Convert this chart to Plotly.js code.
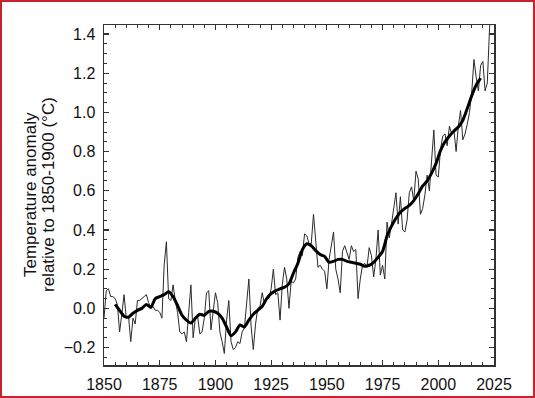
<!DOCTYPE html>
<html>
<head>
<meta charset="utf-8">
<script src="https://cdn.plot.ly/plotly-3.0.1.min.js"></script>
<style>
  html, body { margin: 0; padding: 0; background: #fff; }
  #wrap { position: relative; width: 535px; height: 398px; }
  #chart { position: absolute; left: 0; top: 0; width: 535px; height: 398px; }
  #frame { position: absolute; left: 0; top: 0; width: 535px; height: 398px; box-sizing: border-box; border: 2px solid #c8232c; pointer-events: none; }
</style>
</head>
<body>
<div id="wrap"><div id="chart"></div><div id="frame"></div></div>
<script>
// Annual global mean temperature anomaly (°C, relative to 1850-1900), 1850-2024
const years = [];
for (let y = 1850; y <= 2024; y++) years.push(y);

const annual = [
  -0.05, 0.09, 0.10, 0.06, 0.06, 0.05, 0.02, -0.12, -0.03, 0.07,   // 1850s
  -0.05, -0.04, -0.17, -0.05, -0.08, 0.04, 0.04, 0.05, 0.06, 0.07,  // 1860s
  0.03, 0.00, 0.01, -0.01, -0.01, -0.02, -0.05, 0.22, 0.34, 0.05,   // 1870s
  0.04, 0.12, 0.04, -0.02, -0.12, -0.13, -0.12, -0.17, -0.02, 0.12, // 1880s
  -0.15, -0.05, -0.04, -0.13, -0.12, -0.05, 0.08, 0.09, -0.11, 0.00,// 1890s
  0.08, 0.03, -0.12, -0.17, -0.23, -0.06, 0.04, -0.17, -0.21, -0.20,// 1900s
  -0.17, -0.18, -0.12, -0.10, 0.05, 0.15, -0.09, -0.21, -0.08, 0.00,// 1910s
  0.01, 0.08, 0.02, 0.05, 0.05, 0.10, 0.20, 0.07, 0.08, -0.06,      // 1920s
  0.12, 0.21, 0.15, 0.00, 0.14, 0.13, 0.15, 0.26, 0.29, 0.27,       // 1930s
  0.38, 0.37, 0.33, 0.33, 0.48, 0.33, 0.21, 0.22, 0.20, 0.19,       // 1940s
  0.10, 0.25, 0.31, 0.39, 0.20, 0.15, 0.08, 0.29, 0.32, 0.29,       // 1950s
  0.25, 0.32, 0.29, 0.30, 0.05, 0.15, 0.22, 0.23, 0.21, 0.31,       // 1960s
  0.27, 0.16, 0.25, 0.40, 0.17, 0.22, 0.15, 0.44, 0.36, 0.43,       // 1970s
  0.52, 0.59, 0.43, 0.57, 0.40, 0.39, 0.45, 0.59, 0.62, 0.55,       // 1980s
  0.70, 0.66, 0.48, 0.51, 0.58, 0.68, 0.60, 0.74, 0.91, 0.68,       // 1990s
  0.67, 0.81, 0.88, 0.89, 0.83, 0.93, 0.89, 0.91, 0.80, 0.93,       // 2000s
  1.01, 0.86, 0.89, 0.94, 1.00, 1.10, 1.27, 1.18, 1.11, 1.24,       // 2010s
  1.26, 1.11, 1.15, 1.43, 1.54                                       // 2020s
];

// Smoothed curve (thick line)
const smoothYears = [
  1855, 1857, 1859, 1861, 1863, 1865, 1867, 1869, 1871, 1873, 1875, 1877, 1879,
  1881, 1883, 1885, 1887, 1889, 1891, 1893, 1895, 1897, 1899, 1901, 1903, 1905,
  1907, 1909, 1911, 1913, 1915, 1917, 1919, 1921, 1923, 1925, 1927, 1929, 1931,
  1933, 1935, 1937, 1939, 1941, 1943, 1945, 1947, 1949, 1951, 1953, 1955, 1957,
  1959, 1961, 1963, 1965, 1967, 1969, 1971, 1973, 1975, 1977, 1979, 1981, 1983,
  1985, 1987, 1989, 1991, 1993, 1995, 1997, 1999, 2001, 2003, 2005, 2007, 2009,
  2011, 2013, 2015, 2017, 2019
];
const smoothVals = [
  0.02, -0.01, -0.04, -0.045, -0.025, -0.01, 0.00, 0.02, 0.005, 0.05, 0.06, 0.07, 0.085,
  0.06, 0.015, -0.035, -0.06, -0.075, -0.05, -0.03, -0.035, -0.015, -0.015, -0.025, -0.05, -0.095,
  -0.14, -0.12, -0.085, -0.095, -0.06, -0.03, -0.01, 0.01, 0.05, 0.075, 0.09, 0.10, 0.108,
  0.125, 0.18, 0.23, 0.30, 0.33, 0.32, 0.295, 0.275, 0.265, 0.235, 0.24, 0.25, 0.25,
  0.24, 0.235, 0.23, 0.225, 0.215, 0.22, 0.235, 0.26, 0.29, 0.37, 0.42, 0.46, 0.49,
  0.51, 0.525, 0.55, 0.585, 0.625, 0.65, 0.69, 0.74, 0.805, 0.85, 0.88, 0.905, 0.925,
  0.96, 1.02, 1.085, 1.14, 1.175
];

const xTickVals = [1850, 1875, 1900, 1925, 1950, 1975, 2000, 2025];
const yTickVals = [-0.2, 0.0, 0.2, 0.4, 0.6, 0.8, 1.0, 1.2, 1.4];

const FONT = 'Liberation Sans, Arial, sans-serif';

const traces = [
  {
    x: years, y: annual, type: 'scatter', mode: 'lines',
    line: { color: '#2a2a2a', width: 1 }, hoverinfo: 'skip'
  },
  {
    x: smoothYears, y: smoothVals, type: 'scatter', mode: 'lines',
    line: { color: '#000', width: 3, shape: 'spline', smoothing: 0.6 }, hoverinfo: 'skip'
  }
];

const axisCommon = {
  showgrid: false, zeroline: false,
  showline: true, linecolor: '#333', linewidth: 1.5, mirror: 'allticks',
  ticks: 'inside', ticklen: 5, tickwidth: 1.2, tickcolor: '#333',
  tickfont: { family: FONT, size: 16, color: '#111' }
};

const layout = {
  width: 535, height: 398,
  margin: { l: 104, r: 41, t: 25, b: 33 },
  paper_bgcolor: '#fff', plot_bgcolor: '#fff',
  showlegend: false,
  xaxis: Object.assign({}, axisCommon, {
    range: [1850, 2025], tickmode: 'array', tickvals: xTickVals,
    ticktext: xTickVals.map(String),
    minor: { dtick: 5, tick0: 1850, ticks: 'inside', ticklen: 3, tickwidth: 1, tickcolor: '#333' },
    ticklabelstandoff: 4
  }),
  yaxis: Object.assign({}, axisCommon, {
    range: [-0.289, 1.446], tickmode: 'array', tickvals: yTickVals,
    ticktext: yTickVals.map(v => (v < 0 ? '\u2212' : '') + Math.abs(v).toFixed(1)),
    minor: { dtick: 0.05, tick0: 0, ticks: 'inside', ticklen: 3, tickwidth: 1, tickcolor: '#333' },
    ticklabelstandoff: 4
  }),
  annotations: [
    {
      text: 'Temperature anomaly', xref: 'paper', yref: 'paper',
      x: (30 - 104) / 390, y: 0.5, xanchor: 'center', yanchor: 'middle',
      textangle: -90, showarrow: false,
      font: { family: FONT, size: 17, color: '#111' }
    },
    {
      text: 'relative to 1850-1900 (°C)', xref: 'paper', yref: 'paper',
      x: (48 - 104) / 390, y: 0.5, xanchor: 'center', yanchor: 'middle',
      textangle: -90, showarrow: false,
      font: { family: FONT, size: 17, color: '#111' }
    }
  ]
};

Plotly.newPlot('chart', traces, layout, { staticPlot: true, displayModeBar: false });
</script>
</body>
</html>
